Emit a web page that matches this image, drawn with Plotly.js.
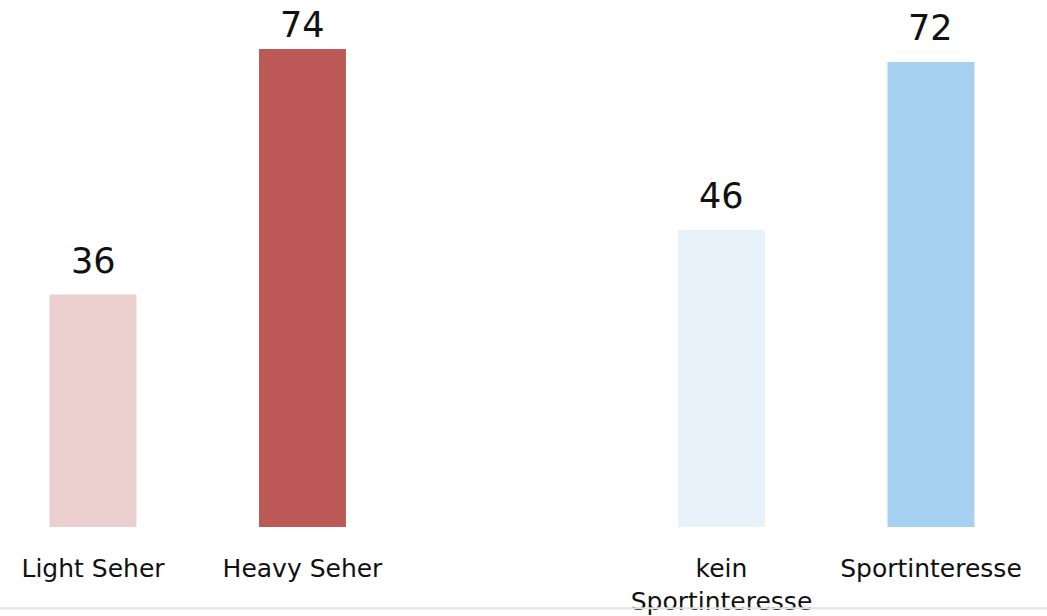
<!DOCTYPE html>
<html>
<head>
<meta charset="utf-8">
<script src="https://cdn.plot.ly/plotly-3.0.1.min.js"></script>
<style>
  html, body { margin: 0; padding: 0; background: #fff; }
  #chart { width: 1047px; height: 616px; }
</style>
</head>
<body>
<div id="chart"></div>
<script>
// categories (one empty slot separates the two groups)
const categories = ['light', 'heavy', 'gap', 'kein', 'sport'];
const tickLabels = ['Light Seher', 'Heavy Seher', '', 'kein<br>Sportinteresse', 'Sportinteresse'];
const values = [36, 74, null, 46, 72];
const barColors = ['#ebcfcf', '#bc5957', '#ffffff', '#e8f2fb', '#a6d0ef'];

const yMax = 81.6;
const plotH = 527;

let trace = {
	x: categories,
	y: values,
	type: 'bar',
	width: 0.415,
	marker: { color: barColors },
	hoverinfo: 'skip'
};

// value labels above bars; the tallest one is squeezed so it stays on the page
let annotations = [];
for (let i = 0; i < categories.length; i++) {
	if (values[i] === null) continue;
	let barTop = plotH * (1 - values[i] / yMax);
	let shift = barTop < 55 ? 2 : 12;
	annotations.push({
		x: categories[i],
		y: values[i],
		text: String(values[i]),
		showarrow: false,
		yanchor: 'bottom',
		yshift: shift,
		font: { family: 'DejaVu Sans', size: 35, color: '#111' }
	});
}

var layout = {
	width: 1047,
	height: 616,
	margin: { l: 0, r: 0, t: 0, b: 616 - plotH },
	paper_bgcolor: '#fff',
	plot_bgcolor: '#fff',
	showlegend: false,
	xaxis: {
		type: 'category',
		range: [-0.444, 4.554],
		tickmode: 'array',
		tickvals: categories,
		ticktext: tickLabels,
		ticks: 'outside',
		ticklen: 19,
		tickcolor: 'rgba(0,0,0,0)',
		showgrid: false,
		zeroline: false,
		showline: false,
		tickfont: { family: 'DejaVu Sans', size: 25, color: '#111' }
	},
	yaxis: {
		range: [0, yMax],
		visible: false,
		showgrid: false,
		zeroline: false
	},
	annotations: annotations,
	shapes: [{
		type: 'line',
		xref: 'paper', yref: 'paper',
		x0: 0, x1: 1, y0: -0.154, y1: -0.154,
		line: { color: '#e3e3e3', width: 2 }
	}]
};

Plotly.newPlot('chart', [trace], layout, { staticPlot: true });
</script>
</body>
</html>
